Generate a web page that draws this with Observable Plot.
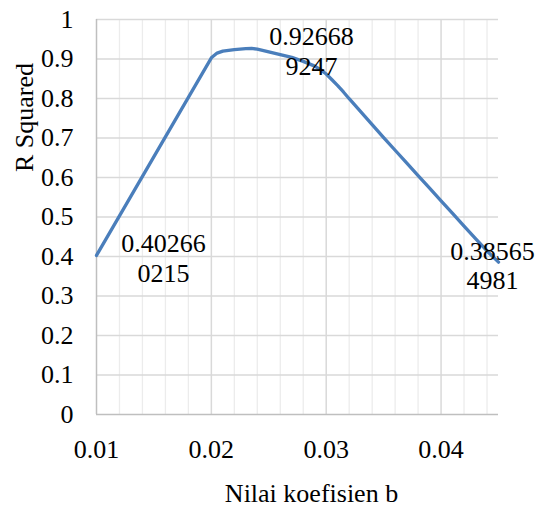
<!DOCTYPE html>
<html>
<head>
<meta charset="utf-8">
<script src="https://cdn.jsdelivr.net/npm/d3@7"></script>
<script src="https://cdn.jsdelivr.net/npm/@observablehq/plot@0.6"></script>
<style>
  html, body { margin: 0; padding: 0; background: #fff; }
</style>
</head>
<body>
<div id="chart"></div>
<script>
// Nilai koefisien b (x) and R Squared (y)
const bValues = [0.010, 0.020, 0.0205, 0.021, 0.022, 0.023, 0.0235, 0.024, 0.025, 0.026, 0.027, 0.028, 0.029, 0.0295, 0.030, 0.0305, 0.031, 0.0315, 0.032, 0.033, 0.034, 0.035, 0.036, 0.037, 0.038, 0.039, 0.040, 0.041, 0.042, 0.043, 0.044, 0.045];
const rSquared = [0.402660215, 0.903, 0.915, 0.920, 0.924, 0.9265, 0.926689247, 0.925, 0.918, 0.911, 0.904, 0.894, 0.882, 0.873, 0.862, 0.8475, 0.8325, 0.8165, 0.7995, 0.767, 0.734, 0.701, 0.669, 0.637, 0.605, 0.573, 0.541, 0.509, 0.477, 0.445, 0.414, 0.385654981];

// data labels
const labelB = [0.010, 0.0235, 0.045];
const labelR = [0.402660215, 0.926689247, 0.385654981];
const labelText = ["0.40266\n0215", "0.92668\n9247", "0.38565\n4981"];

// ticks and gridlines
const xTicks = [0.01, 0.02, 0.03, 0.04];
const xMinor = [0.012, 0.014, 0.016, 0.018, 0.022, 0.024, 0.026, 0.028, 0.032, 0.034, 0.036, 0.038, 0.042, 0.044];
const yTicks = [0, 0.1, 0.2, 0.3, 0.4, 0.5, 0.6, 0.7, 0.8, 0.9, 1];

const xTitle = "Nilai koefisien b";
const yTitle = "R Squared";

const series = bValues.map((b, i) => ({b, r: rSquared[i]}));
const labels = labelB.map((b, i) => ({b, r: labelR[i], t: labelText[i]}));

const txt = {fontFamily: "Liberation Serif", fontSize: 26, fill: "#000"};

const chart = Plot.plot({
  width: 541,
  height: 507,
  marginLeft: 96,
  marginRight: 43,
  marginTop: 19,
  marginBottom: 93,
  x: {domain: [0.01, 0.045]},
  y: {domain: [0, 1]},
  marks: [
    Plot.ruleX(xMinor, {stroke: "#ececec", strokeWidth: 1.3}),
    Plot.ruleX(xTicks.slice(1), {stroke: "#d9d9d9", strokeWidth: 1.5}),
    Plot.ruleY(yTicks.slice(1), {stroke: "#d9d9d9", strokeWidth: 1.5}),
    Plot.ruleX([0.01], {stroke: "#bfbfbf", strokeWidth: 1.5}),
    Plot.ruleY([0], {stroke: "#bfbfbf", strokeWidth: 1.5}),
    Plot.line(series, {x: "b", y: "r", stroke: "#4a7ebb", strokeWidth: 3.3, curve: "linear", strokeLinejoin: "round"}),
    Plot.axisY({ticks: yTicks, tickSize: 0, tickPadding: 23, tickFormat: d => String(d), label: null, ...txt}),
    Plot.axisX({ticks: xTicks, tickSize: 0, tickPadding: 25, tickFormat: d => String(d), label: null, ...txt}),
    Plot.text(labels.slice(0, 1), {x: "b", y: "r", text: "t", ...txt, lineHeight: 1.13, textAnchor: "middle", lineAnchor: "middle", dx: 67, dy: 2}),
    Plot.text(labels.slice(1, 2), {x: "b", y: "r", text: "t", ...txt, lineHeight: 1.13, textAnchor: "middle", lineAnchor: "middle", dx: 60, dy: 2}),
    Plot.text(labels.slice(2, 3), {x: "b", y: "r", text: "t", ...txt, lineHeight: 1.13, textAnchor: "middle", lineAnchor: "middle", dx: -6, dy: 3}),
    Plot.text([xTitle], {frameAnchor: "bottom", text: d => d, ...txt, dx: 14, dy: 79, lineAnchor: "middle"}),
    Plot.text([yTitle], {frameAnchor: "left", text: d => d, ...txt, rotate: -90, dx: -72, dy: -45, lineAnchor: "middle"})
  ]
});
document.getElementById("chart").appendChild(chart);
</script>
</body>
</html>
